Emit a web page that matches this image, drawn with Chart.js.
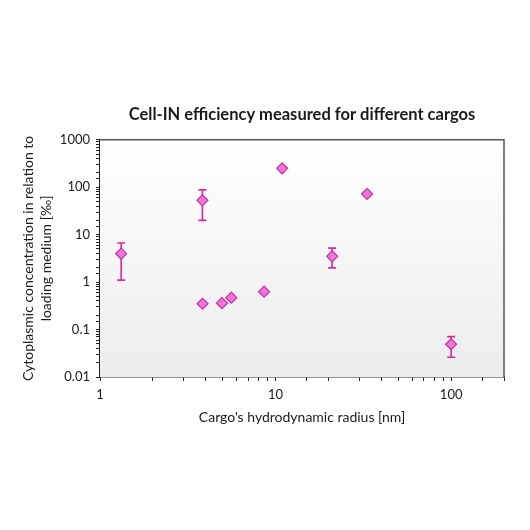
<!DOCTYPE html>
<html>
<head>
<meta charset="utf-8">
<script src="https://cdn.jsdelivr.net/npm/chart.js@4"></script>
<style>
    html, body { margin: 0; padding: 0; background: #ffffff; }
    #wrap { width: 530px; height: 530px; position: relative; }
</style>
</head>
<body>
<div id="wrap"><canvas id="cargoChart"></canvas></div>
<script>
// ===== Data =====
const radiusNm = [1.32, 3.83, 3.84, 4.95, 5.6, 8.6, 10.9, 21, 33.2, 100];
const concPermil = [3.98, 53, 0.35, 0.36, 0.47, 0.63, 250, 3.5, 72, 0.049];
const errHigh = [6.7, 88, null, null, null, null, null, 5.2, null, 0.071];
const errLow = [1.1, 20, null, null, null, null, null, 2.0, null, 0.026];
const decadeLabelsY = [0.01, 0.1, 1, 10, 100, 1000];
const decadeLabelsX = [1, 10, 100];

// ===== Colors =====
const colors = {
    markerFill: '#ee74dc',
    markerEdge: '#c8309e',
    errBar: '#d42a9e',
    axis: '#222222',
    frame: '#555555',
    text: '#1a1a1a'
};

const FONT = 'Lato, "Open Sans", sans-serif';

// ===== Plot background gradient + frame =====
const plotFrame = {
    id: 'plotFrame',
    beforeDatasetsDraw(chart) {
        const { ctx, chartArea: a } = chart;
        const g = ctx.createLinearGradient(0, a.top, 0, a.bottom);
        g.addColorStop(0, '#ffffff');
        g.addColorStop(1, '#ececec');
        ctx.save();
        ctx.fillStyle = g;
        ctx.fillRect(a.left, a.top, a.right - a.left, a.bottom - a.top);
        ctx.strokeStyle = colors.frame;
        ctx.lineWidth = 1.5;
        ctx.beginPath();
        ctx.moveTo(a.left, a.top);
        ctx.lineTo(a.right, a.top);
        ctx.lineTo(a.right, a.bottom);
        ctx.stroke();
        ctx.restore();
    }
};

// ===== Error bars (drawn through the chart scales) =====
const errorBars = {
    id: 'errorBars',
    beforeDatasetsDraw(chart) {
        const { ctx, scales } = chart;
        ctx.save();
        ctx.strokeStyle = colors.errBar;
        ctx.lineWidth = 1.6;
        radiusNm.forEach((r, i) => {
            if (errHigh[i] == null || errLow[i] == null) return;
            const x = scales.x.getPixelForValue(r);
            const yTop = scales.y.getPixelForValue(errHigh[i]);
            const yBot = scales.y.getPixelForValue(errLow[i]);
            ctx.beginPath();
            ctx.moveTo(x, yTop);
            ctx.lineTo(x, yBot);
            ctx.moveTo(x - 4, yTop);
            ctx.lineTo(x + 4, yTop);
            ctx.moveTo(x - 4, yBot);
            ctx.lineTo(x + 4, yBot);
            ctx.stroke();
        });
        ctx.restore();
    }
};

new Chart(document.getElementById('cargoChart'), {
    type: 'scatter',
    data: {
        datasets: [{
            label: 'Cell-IN efficiency',
            data: radiusNm.map((r, i) => ({ x: r, y: concPermil[i] })),
            pointStyle: 'rectRot',
            pointRadius: 5.5,
            pointHoverRadius: 5.5,
            backgroundColor: colors.markerFill,
            borderColor: colors.markerEdge,
            borderWidth: 1.2
        }]
    },
    options: {
        responsive: true,
        maintainAspectRatio: false,
        animation: false,
        layout: {
            padding: { left: 20, right: 26, top: 105, bottom: 104 }
        },
        plugins: {
            legend: { display: false },
            tooltip: { enabled: false },
            title: {
                display: true,
                fullSize: false,
                text: 'Cell-IN efficiency measured for different cargos',
                color: colors.text,
                font: { family: FONT, size: 16.5, weight: 'bold' },
                padding: { top: 0, bottom: 15 }
            }
        },
        scales: {
            x: {
                type: 'logarithmic',
                min: 1,
                max: 200,
                border: { display: true, color: colors.axis, width: 1.5 },
                grid: {
                    drawOnChartArea: false,
                    drawTicks: true,
                    tickLength: 4,
                    color: colors.axis
                },
                ticks: {
                    autoSkip: false,
                    maxRotation: 0,
                    color: colors.text,
                    padding: 6,
                    font: { family: FONT, size: 13 },
                    callback: (v) => decadeLabelsX.includes(v) ? String(v) : ''
                },
                title: {
                    display: true,
                    text: "Cargo's hydrodynamic radius [nm]",
                    color: colors.text,
                    font: { family: FONT, size: 14 },
                    padding: { top: 4, bottom: 0 }
                },
                afterFit(scale) {
                    scale.height = 49;
                }
            },
            y: {
                type: 'logarithmic',
                min: 0.01,
                max: 1000,
                border: { display: true, color: colors.axis, width: 1.5 },
                grid: {
                    drawOnChartArea: false,
                    drawTicks: true,
                    tickLength: 4,
                    color: colors.axis
                },
                ticks: {
                    autoSkip: false,
                    color: colors.text,
                    padding: 6,
                    font: { family: FONT, size: 13 },
                    callback: (v) => decadeLabelsY.includes(v) ? String(v) : ''
                },
                title: {
                    display: true,
                    text: ['Cytoplasmic concentration in relation to', 'loading medium [‰]'],
                    color: colors.text,
                    font: { family: FONT, size: 14, lineHeight: 1.25 },
                    padding: { top: 0, bottom: 4 }
                },
                afterFit(scale) {
                    scale.width = 80;
                }
            }
        }
    },
    plugins: [plotFrame, errorBars]
});
</script>
</body>
</html>
